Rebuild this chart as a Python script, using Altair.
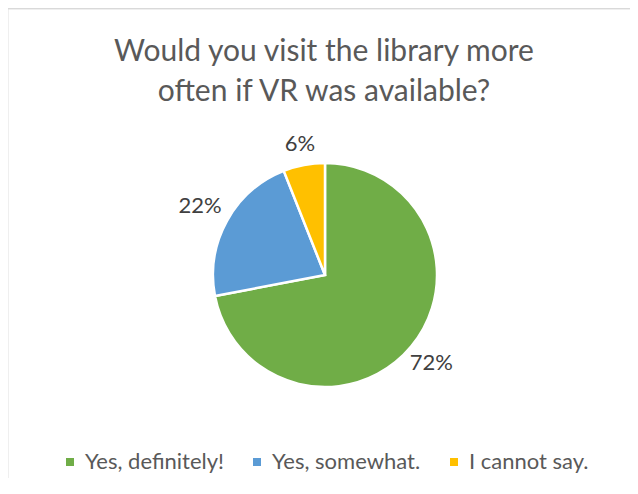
import altair as alt
import pandas as pd
import numpy as np

categories = ["Yes, definitely!", "Yes, somewhat.", "I cannot say."]
values = [72, 22, 6]
colors = ["#70AD47", "#5B9BD5", "#FFC000"]
title_lines = ["Would you visit the library more", "often if VR was available?"]

df = pd.DataFrame({"category": categories, "value": values})
df["label"] = df["value"].astype(str) + "%"
tot = float(df["value"].sum())
df["end"] = df["value"].cumsum()
df["start"] = df["end"] - df["value"]
df["mid"] = (df["start"] + df["end"]) / 2

# label distance from the centre: outside the arc, by its box size
R = 112
ang = df["mid"] / tot * 2 * np.pi
hw = df["label"].str.len() * 6.5
hh = 9
s = np.abs(np.sin(ang)).clip(1e-3)
c = np.abs(np.cos(ang)).clip(1e-3)
df["lr"] = R + 12 + np.minimum(hw / s, hh / c)

CX, CY = 317, 267
tscale = alt.Scale(domain=[0, tot], range=[0, 2 * np.pi])

pie = alt.Chart(df).mark_arc(radius=R, stroke="white", strokeWidth=2.5).encode(
    theta=alt.Theta("start:Q", scale=tscale),
    theta2="end:Q",
    color=alt.Color(
        "category:N",
        scale=alt.Scale(domain=categories, range=colors),
        sort=categories,
        legend=alt.Legend(
            title=None, orient="none", direction="horizontal", columns=3,
            legendX=51, legendY=443, symbolType="square", symbolSize=64,
            symbolStrokeWidth=0, labelFontSize=22, labelFont="Lato",
            labelColor="#595959", labelOffset=4, columnPadding=22, padding=0,
        ),
    ),
    x=alt.value(CX), y=alt.value(CY),
)

labels = alt.Chart(df).mark_text(font="Lato", fontSize=22, color="#404040",
                                 align="center", baseline="middle").encode(
    theta=alt.Theta("mid:Q", scale=tscale),
    text="label:N",
    radius=alt.Radius("lr:Q", scale=None),
    x=alt.value(CX), y=alt.value(CY),
)

tdf = pd.DataFrame({"line": title_lines, "i": range(len(title_lines))})
title = alt.Chart(tdf).mark_text(font="Lato", fontSize=30, color="#595959",
                                 align="center", baseline="alphabetic").encode(
    text="line:N",
    x=alt.value(316),
    y=alt.Y("i:Q", scale=alt.Scale(domain=[0, 1], range=[53, 93]), axis=None),
)

top = alt.Chart(tdf).mark_rule(color="#d9d9d9", strokeWidth=1.5).encode(
    x=alt.value(0), x2=alt.value(630), y=alt.value(0.5))
left = alt.Chart(tdf).mark_rule(color="#d9d9d9", strokeWidth=1.5).encode(
    x=alt.value(-0.5), y=alt.value(0), y2=alt.value(478))

chart = alt.layer(top, left, pie, labels, title).properties(
    width=622, height=470, autosize=alt.AutoSizeParams(type="none"),
    padding=0, background="white",
).configure_view(stroke=None)

chart.save("out.html", embed_options={"renderer": "svg", "actions": False})
